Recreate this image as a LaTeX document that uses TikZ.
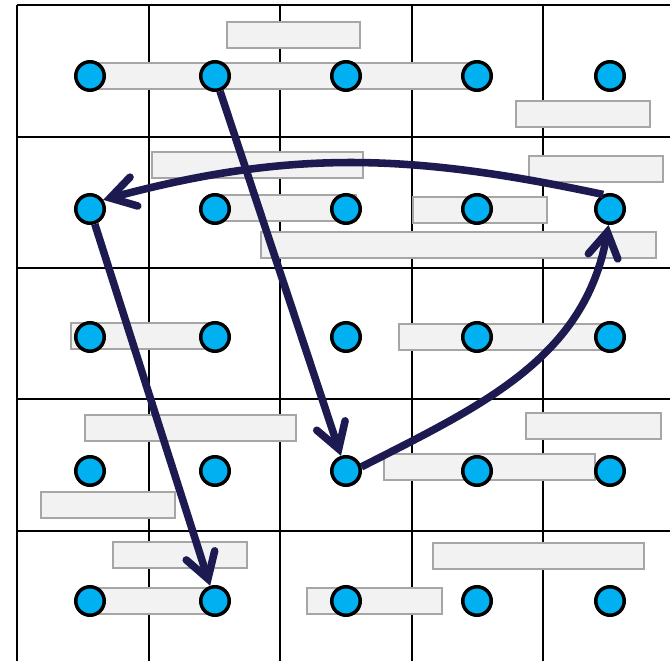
\documentclass[tikz,border=0pt]{standalone}
\usepackage{xcolor}
\usepackage{tikz}
\usetikzlibrary{arrows.meta}
\definecolor{dotblue}{HTML}{00B0F0}
\definecolor{navy}{HTML}{1C1A50}
\definecolor{barfill}{HTML}{F2F2F2}
\definecolor{bargray}{HTML}{A6A6A6}

\begin{document}
\begin{tikzpicture}[
  x=0.02cm, y=-0.02cm,
  grid/.style={line width=1.5pt, black},
  bar/.style={draw=bargray, fill=barfill, line width=1.2pt},
  dot/.style={circle, draw=black, fill=dotblue, line width=2pt, minimum size=0.57cm, inner sep=0pt},
  arr/.style={-{Straight Barb[length=14pt,width=17pt,line cap=round]}, line width=4.3pt, navy}
]
\useasboundingbox (0,0) rectangle (670,661);
% grid
\foreach \x in {17,149,280,412,543} \draw[grid] (\x,5) -- (\x,661);
\foreach \y in {5,137,268,399,531} \draw[grid] (17,\y) -- (670,\y);
% bars (left/top/width)
\foreach \x/\y/\w in {227/22/133, 95/63/375, 152/152/211, 220/195/136, 413/197/134,
    529/156/134, 261/232/395, 516/101/134, 71/323/139, 85/415/211, 41/492/134,
    113/542/134, 95/588/115, 307/588/135, 399/324/206, 526/413/135, 384/454/211, 433/543/211}
  \draw[bar] (\x,\y) rectangle ++(\w,26);
% dots
\foreach \y [count=\r] in {76,209,337,471,601}
  \foreach \x [count=\c] in {90,215,346,477,610}
    \node[dot] (d\r\c) at (\x,\y) {};
% moves
\draw[arr] (d12) -- (d43);
\draw[arr] (d21) -- (d52);
\draw[arr] (d25.115) to[out=168,in=15] (d21.35);
\draw[arr] (d43.15) to[out=27,in=-100] (d25.-95);
\end{tikzpicture}
\end{document}
